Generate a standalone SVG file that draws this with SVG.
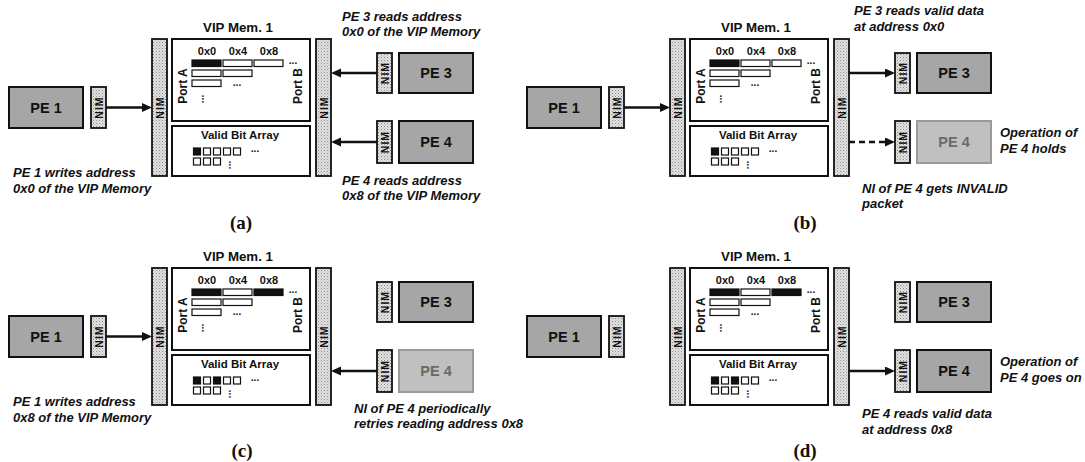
<svg xmlns="http://www.w3.org/2000/svg" width="1085" height="462" viewBox="0 0 1085 462">
<style>
text{font-family:"Liberation Sans",Arial,sans-serif;font-weight:bold;fill:#111}
.pe{fill:#a6a6a6;stroke:#111;stroke-width:2}
.pef{fill:#c0c0c0;stroke:#9a9a9a;stroke-width:2}
.pet{font-size:14.5px;text-anchor:middle;dominant-baseline:central}
.petf{font-size:14.5px;text-anchor:middle;dominant-baseline:central;fill:#6a6a6a}
.nim{fill:url(#stip);stroke:#111;stroke-width:1.8}
.nimt{font-size:10.5px;text-anchor:middle;dominant-baseline:central;letter-spacing:1px}
.box{fill:#fff;stroke:#111;stroke-width:2}
.title{font-size:13.3px;text-anchor:middle}
.addr{font-size:11px;text-anchor:middle}
.port{font-size:12px;text-anchor:middle;dominant-baseline:central}
.vba{font-size:11.5px;text-anchor:middle}
.dots{font-size:10px;text-anchor:middle}
.cw{fill:#fff;stroke:#111;stroke-width:1.2}
.cb{fill:#111;stroke:#111;stroke-width:1.2}
.note{font-size:13px;font-style:italic}
.cap{font-family:"Liberation Serif","Times New Roman",serif;font-size:19px;text-anchor:middle}
.arr{stroke:#111;stroke-width:2.6;fill:none;marker-end:url(#ah)}
.dash{stroke-dasharray:6,4}
</style>
<defs>
<pattern id="stip" width="3" height="3" patternUnits="userSpaceOnUse">
<rect width="3" height="3" fill="#e2e2e2"/>
<rect width="1" height="1" fill="#8a8a8a"/>
<rect x="1.5" y="1.5" width="1" height="1" fill="#a8a8a8"/>
</pattern>
<marker id="ah" markerUnits="userSpaceOnUse" markerWidth="11" markerHeight="10" refX="0" refY="4.5" orient="auto">
<path d="M0,0 L10,4.5 L0,9 z" fill="#111"/>
</marker>
<g id="memblock">
<text class="title" x="238" y="32">VIP Mem. 1</text>
<rect class="box" x="172" y="39" width="138" height="82"/>
<text class="addr" x="207" y="55">0x0</text>
<text class="addr" x="238" y="55">0x4</text>
<text class="addr" x="269" y="55">0x8</text>
<rect class="cw" x="223" y="60" width="29" height="6.5"/>
<rect class="cw" x="192" y="70" width="29" height="6.5"/>
<rect class="cw" x="223" y="70" width="29" height="6.5"/>
<rect class="cw" x="192" y="80" width="29" height="6.5"/>
<text class="dots" x="293" y="64">...</text>
<text class="dots" x="237" y="86">...</text>
<text class="dots" transform="translate(205,99) rotate(90)" x="0" y="3">...</text>
<text class="port" transform="translate(183,86) rotate(-90)">Port A</text>
<text class="port" transform="translate(298,86) rotate(-90)">Port B</text>
<rect class="box" x="172" y="126" width="138" height="50"/>
<text class="vba" x="240" y="139">Valid Bit Array</text>
<rect class="cw" x="203.5" y="148" width="7" height="7"/>
<rect class="cw" x="223.5" y="148" width="7" height="7"/>
<rect class="cw" x="233.5" y="148" width="7" height="7"/>
<rect class="cw" x="193.5" y="158" width="7" height="7"/>
<rect class="cw" x="203.5" y="158" width="7" height="7"/>
<rect class="cw" x="213.5" y="158" width="7" height="7"/>
<text class="dots" x="255" y="152">...</text>
<text class="dots" transform="translate(232,165) rotate(90)" x="0" y="3">...</text>
</g>
</defs>

<!-- Panel (a) -->
<g id="panel-a">
<g id="a-pe1"><rect class="pe" x="9" y="87" width="74" height="41"/><text class="pet" x="46" y="107.5">PE 1</text></g>
<g id="a-nim1"><rect class="nim" x="91" y="87" width="15" height="41"/><text class="nimt" transform="translate(98.5,107.5) rotate(-90)">NIM</text></g>
<g id="a-nimL"><rect class="nim" x="152" y="39" width="15" height="137"/><text class="nimt" transform="translate(159.5,107.5) rotate(-90)">NIM</text></g>
<g id="a-mem"><use href="#memblock"/><rect class="cb" x="192" y="60" width="29" height="6.5"/><rect class="cw" x="254" y="60" width="29" height="6.5"/><rect class="cb" x="193.5" y="148" width="7" height="7"/><rect class="cw" x="213.5" y="148" width="7" height="7"/></g>
<g id="a-nimR"><rect class="nim" x="316" y="39" width="15" height="137"/><text class="nimt" transform="translate(323.5,107.5) rotate(-90)">NIM</text></g>
<g id="a-nim3"><rect class="nim" x="377" y="53" width="15" height="40"/><text class="nimt" transform="translate(384.5,73) rotate(-90)">NIM</text></g>
<g id="a-pe3"><rect class="pe" x="399" y="53" width="74" height="40"/><text class="pet" x="436" y="73">PE 3</text></g>
<g id="a-nim4"><rect class="nim" x="377" y="121" width="15" height="42"/><text class="nimt" transform="translate(384.5,142) rotate(-90)">NIM</text></g>
<g id="a-pe4"><rect class="pe" x="399" y="121" width="74" height="42"/><text class="pet" x="436" y="142">PE 4</text></g>
<g id="a-notes">
<text class="note" x="13" y="177">PE 1 writes address</text>
<text class="note" x="13" y="193">0x0 of the VIP Memory</text>
<text class="note" x="342" y="21">PE 3 reads address</text>
<text class="note" x="342" y="36">0x0 of the VIP Memory</text>
<text class="note" x="342" y="185">PE 4 reads address</text>
<text class="note" x="342" y="200">0x8 of the VIP Memory</text>
<text class="cap" x="241" y="229">(a)</text>
</g>
</g>

<!-- Panel (b) -->
<g id="panel-b">
<g id="b-pe1"><rect class="pe" x="527" y="87" width="74" height="41"/><text class="pet" x="564" y="107.5">PE 1</text></g>
<g id="b-nim1"><rect class="nim" x="609" y="87" width="15" height="41"/><text class="nimt" transform="translate(616.5,107.5) rotate(-90)">NIM</text></g>
<g id="b-nimL"><rect class="nim" x="670" y="39" width="15" height="137"/><text class="nimt" transform="translate(677.5,107.5) rotate(-90)">NIM</text></g>
<g id="b-mem" transform="translate(518,0)"><use href="#memblock"/><rect class="cb" x="192" y="60" width="29" height="6.5"/><rect class="cw" x="254" y="60" width="29" height="6.5"/><rect class="cb" x="193.5" y="148" width="7" height="7"/><rect class="cw" x="213.5" y="148" width="7" height="7"/></g>
<g id="b-nimR"><rect class="nim" x="834" y="39" width="15" height="137"/><text class="nimt" transform="translate(841.5,107.5) rotate(-90)">NIM</text></g>
<g id="b-nim3"><rect class="nim" x="895" y="53" width="15" height="40"/><text class="nimt" transform="translate(902.5,73) rotate(-90)">NIM</text></g>
<g id="b-pe3"><rect class="pe" x="917" y="53" width="74" height="40"/><text class="pet" x="954" y="73">PE 3</text></g>
<g id="b-nim4"><rect class="nim" x="895" y="121" width="15" height="42"/><text class="nimt" transform="translate(902.5,142) rotate(-90)">NIM</text></g>
<g id="b-pe4"><rect class="pef" x="917" y="121" width="74" height="42"/><text class="petf" x="954" y="142">PE 4</text></g>
<g id="b-notes">
<text class="note" x="854" y="15">PE 3 reads valid data</text>
<text class="note" x="854" y="31">at address 0x0</text>
<text class="note" x="1000" y="137">Operation of</text>
<text class="note" x="1000" y="153">PE 4 holds</text>
<text class="note" x="862" y="193">NI of PE 4 gets INVALID</text>
<text class="note" x="862" y="208">packet</text>
<text class="cap" x="805" y="229">(b)</text>
</g>
</g>

<!-- Panel (c) -->
<g id="panel-c">
<g id="c-pe1"><rect class="pe" x="9" y="316" width="74" height="41"/><text class="pet" x="46" y="336.5">PE 1</text></g>
<g id="c-nim1"><rect class="nim" x="91" y="316" width="15" height="41"/><text class="nimt" transform="translate(98.5,336.5) rotate(-90)">NIM</text></g>
<g id="c-nimL"><rect class="nim" x="152" y="268" width="15" height="137"/><text class="nimt" transform="translate(159.5,336.5) rotate(-90)">NIM</text></g>
<g id="c-mem" transform="translate(0,229)"><use href="#memblock"/><rect class="cb" x="192" y="60" width="29" height="6.5"/><rect class="cb" x="254" y="60" width="29" height="6.5"/><rect class="cb" x="193.5" y="148" width="7" height="7"/><rect class="cb" x="213.5" y="148" width="7" height="7"/></g>
<g id="c-nimR"><rect class="nim" x="316" y="268" width="15" height="137"/><text class="nimt" transform="translate(323.5,336.5) rotate(-90)">NIM</text></g>
<g id="c-nim3"><rect class="nim" x="377" y="282" width="15" height="40"/><text class="nimt" transform="translate(384.5,302) rotate(-90)">NIM</text></g>
<g id="c-pe3"><rect class="pe" x="399" y="282" width="74" height="40"/><text class="pet" x="436" y="302">PE 3</text></g>
<g id="c-nim4"><rect class="nim" x="377" y="350" width="15" height="42"/><text class="nimt" transform="translate(384.5,371) rotate(-90)">NIM</text></g>
<g id="c-pe4"><rect class="pef" x="399" y="350" width="74" height="42"/><text class="petf" x="436" y="371">PE 4</text></g>
<g id="c-notes">
<text class="note" x="13" y="406">PE 1 writes address</text>
<text class="note" x="13" y="422">0x8 of the VIP Memory</text>
<text class="note" x="354" y="413">NI of PE 4 periodically</text>
<text class="note" x="354" y="428">retries reading address 0x8</text>
<text class="cap" x="242" y="457">(c)</text>
</g>
</g>

<!-- Panel (d) -->
<g id="panel-d">
<g id="d-pe1"><rect class="pe" x="527" y="316" width="74" height="41"/><text class="pet" x="564" y="336.5">PE 1</text></g>
<g id="d-nim1"><rect class="nim" x="609" y="316" width="15" height="41"/><text class="nimt" transform="translate(616.5,336.5) rotate(-90)">NIM</text></g>
<g id="d-nimL"><rect class="nim" x="670" y="268" width="15" height="137"/><text class="nimt" transform="translate(677.5,336.5) rotate(-90)">NIM</text></g>
<g id="d-mem" transform="translate(518,229)"><use href="#memblock"/><rect class="cb" x="192" y="60" width="29" height="6.5"/><rect class="cb" x="254" y="60" width="29" height="6.5"/><rect class="cb" x="193.5" y="148" width="7" height="7"/><rect class="cb" x="213.5" y="148" width="7" height="7"/></g>
<g id="d-nimR"><rect class="nim" x="834" y="268" width="15" height="137"/><text class="nimt" transform="translate(841.5,336.5) rotate(-90)">NIM</text></g>
<g id="d-nim3"><rect class="nim" x="895" y="282" width="15" height="40"/><text class="nimt" transform="translate(902.5,302) rotate(-90)">NIM</text></g>
<g id="d-pe3"><rect class="pe" x="917" y="282" width="74" height="40"/><text class="pet" x="954" y="302">PE 3</text></g>
<g id="d-nim4"><rect class="nim" x="895" y="350" width="15" height="42"/><text class="nimt" transform="translate(902.5,371) rotate(-90)">NIM</text></g>
<g id="d-pe4"><rect class="pe" x="917" y="350" width="74" height="42"/><text class="pet" x="954" y="371">PE 4</text></g>
<g id="d-notes">
<text class="note" x="1000" y="366">Operation of</text>
<text class="note" x="1000" y="382">PE 4 goes on</text>
<text class="note" x="862" y="418">PE 4 reads valid data</text>
<text class="note" x="862" y="434">at address 0x8</text>
<text class="cap" x="805" y="457">(d)</text>
</g>
</g>

<g id="connectors">
<line class="arr" x1="106" y1="107.5" x2="142" y2="107.5"/>
<line class="arr" x1="377" y1="73" x2="341" y2="73"/>
<line class="arr" x1="377" y1="142" x2="341" y2="142"/>
<line class="arr" x1="624" y1="107.5" x2="660" y2="107.5"/>
<line class="arr" x1="849" y1="73" x2="885" y2="73"/>
<line class="arr dash" x1="849" y1="142" x2="885" y2="142"/>
<line class="arr" x1="106" y1="336.5" x2="142" y2="336.5"/>
<line class="arr" x1="377" y1="371" x2="341" y2="371"/>
<line class="arr" x1="849" y1="371" x2="885" y2="371"/>
</g>
</svg>
